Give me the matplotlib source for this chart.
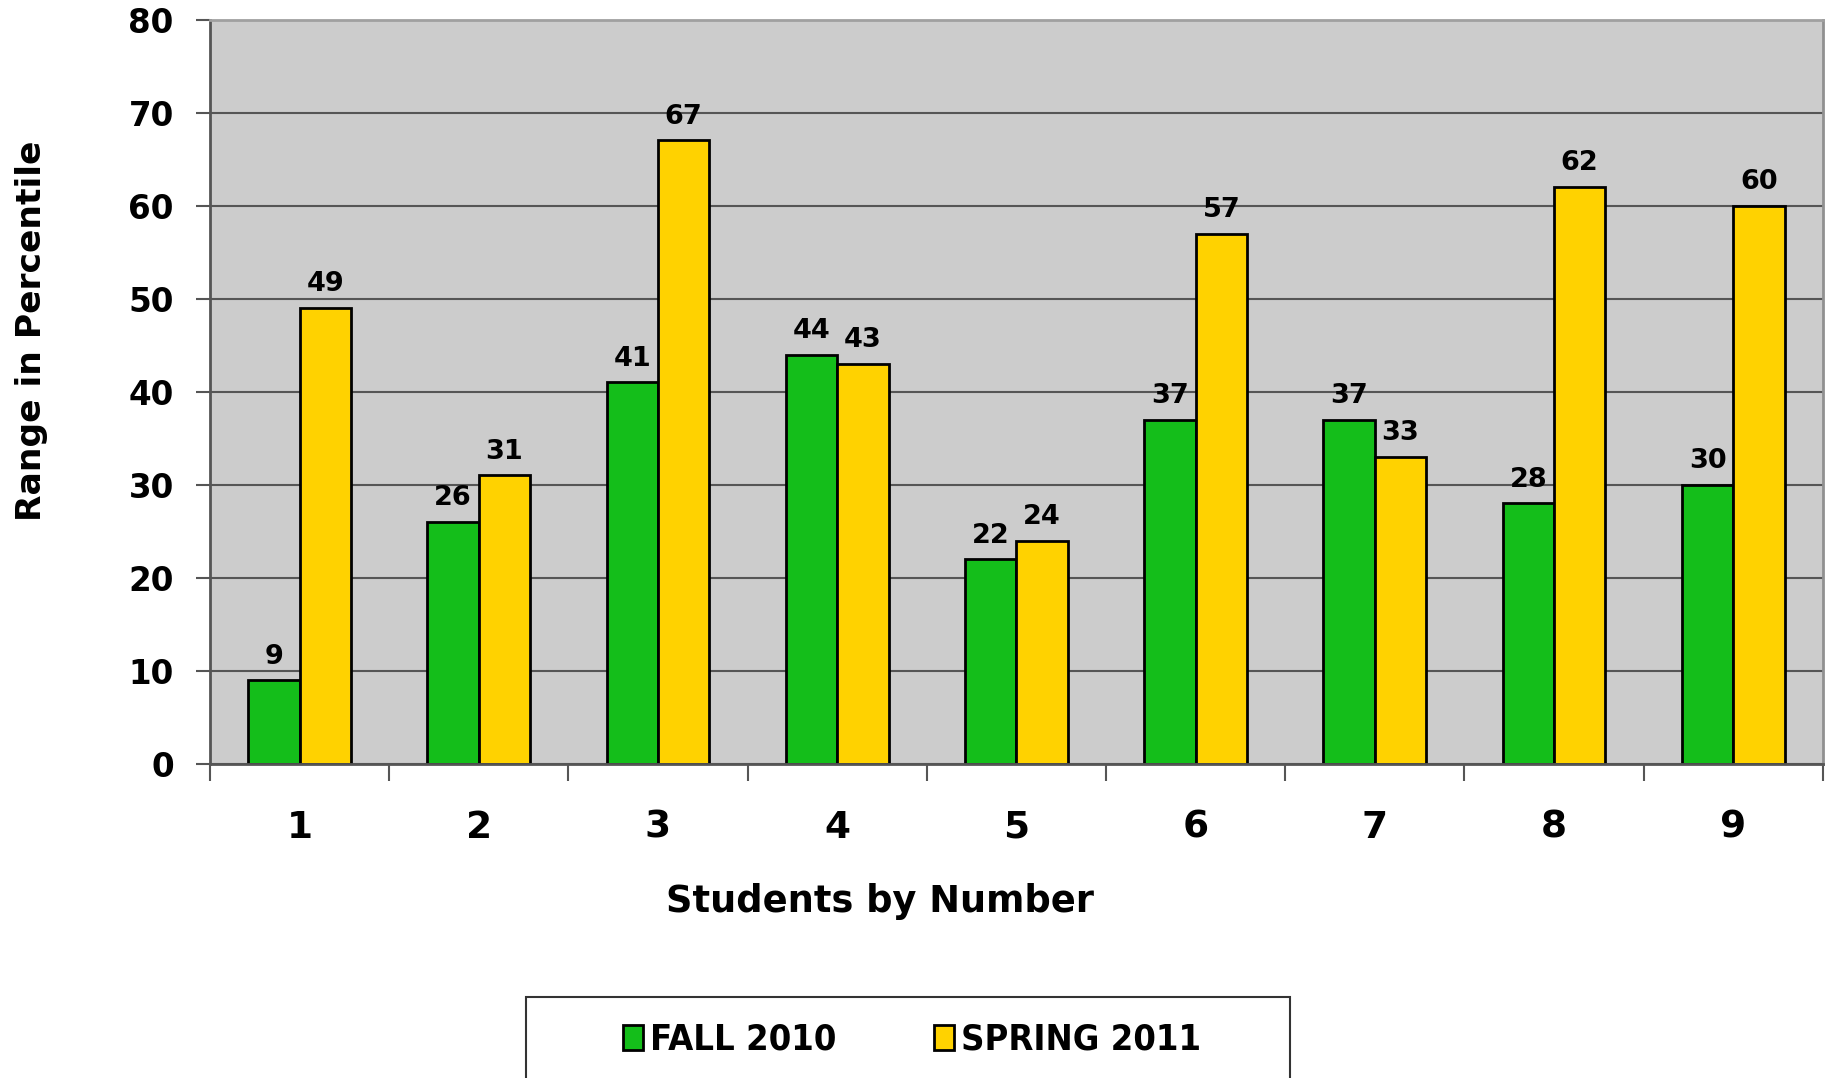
import matplotlib
matplotlib.use('Agg')
from matplotlib import pyplot as plt
import matplotlib.patches as mpatches
import numpy as np


students = ['1', '2', '3', '4', '5', '6', '7', '8', '9']
fall_2010 = [9, 26, 41, 44, 22, 37, 37, 28, 30]
spring_2011 = [49, 31, 67, 43, 24, 57, 33, 62, 60]
series_names = ['FALL 2010', 'SPRING 2011']
yticks = [0, 10, 20, 30, 40, 50, 60, 70, 80]

colordict = {'fall': '#14be1a', 'spring': '#ffd200'}

plt.rcParams['font.family'] = 'DejaVu Sans'
plt.rcParams['font.weight'] = 'bold'

fig = plt.figure(figsize=(18.32, 10.78), dpi=100)
ax = fig.add_axes([0.1146, 0.2913, 0.8804, 0.6906])
ax.set_facecolor('#cccccc')

x = np.arange(len(students))
w = 0.287

# gridlines behind bars
ax.set_axisbelow(True)
ax.yaxis.grid(True, color='#555555', linewidth=1.5)

bars_fall = ax.bar(x - w / 2, fall_2010, w, color=colordict['fall'],
                   edgecolor='black', linewidth=2)
bars_spring = ax.bar(x + w / 2, spring_2011, w, color=colordict['spring'],
                     edgecolor='black', linewidth=2)

# value labels above bars
for bars, vals in ((bars_fall, fall_2010), (bars_spring, spring_2011)):
    for b, v in zip(bars, vals):
        ax.annotate(str(v), (b.get_x() + b.get_width() / 2, v),
                    xytext=(0, 12), textcoords='offset points',
                    ha='center', va='baseline', fontsize=19.5, fontweight='bold')

ax.set_xlim(-0.5, len(students) - 0.5)
ax.set_ylim(0, 80)
ax.set_yticks(yticks)
ax.set_yticklabels([str(t) for t in yticks], fontsize=23.5, fontweight='bold')
ax.tick_params(axis='y', direction='out', length=10, width=1.5,
               color='#555555', pad=16)

# tick marks at group boundaries, labels at group centres
ax.set_xticks(np.arange(-0.5, len(students), 1.0))
ax.set_xticklabels([])
ax.tick_params(axis='x', which='major', direction='out', length=12,
               width=1.5, color='#555555')
ax.set_xticks(x, minor=True)
ax.set_xticklabels(students, minor=True, fontsize=27, fontweight='bold')
ax.tick_params(axis='x', which='minor', length=0, pad=33)

ax.spines['left'].set_color('#555555')
ax.spines['bottom'].set_color('#555555')
ax.spines['left'].set_linewidth(2)
ax.spines['bottom'].set_linewidth(2)
ax.spines['top'].set_color('#a0a0a0')
ax.spines['right'].set_color('#909090')
ax.spines['top'].set_linewidth(2)
ax.spines['right'].set_linewidth(2)

fig.text(32 / 1832, 1 - 331 / 1078, 'Range in Percentile', rotation=90,
         ha='center', va='center', fontsize=24.8, fontweight='bold')
fig.text(880 / 1832, 1 - 902 / 1078, 'Students by Number',
         ha='center', va='center', fontsize=26.5, fontweight='bold')

# legend box running off the bottom edge
box = mpatches.Rectangle((526 / 1832, -0.02), (1290 - 526) / 1832,
                         (1078 - 997) / 1078 + 0.02, transform=fig.transFigure,
                         facecolor='white', edgecolor='#333333', linewidth=1.5)
fig.add_artist(box)

handles = [mpatches.Patch(facecolor=colordict['fall'], edgecolor='black', linewidth=2),
           mpatches.Patch(facecolor=colordict['spring'], edgecolor='black', linewidth=2)]
leg = fig.legend(handles, series_names, loc='center',
                 bbox_to_anchor=(912 / 1832, 1 - 1040 / 1078), ncol=2,
                 frameon=False, handlelength=0.55, handleheight=0.7,
                 handletextpad=0.2, columnspacing=2.7,
                 prop={'family': 'DejaVu Sans', 'stretch': 'condensed',
                       'weight': 'bold', 'size': 26})

fig.savefig('out.png', dpi=100)
